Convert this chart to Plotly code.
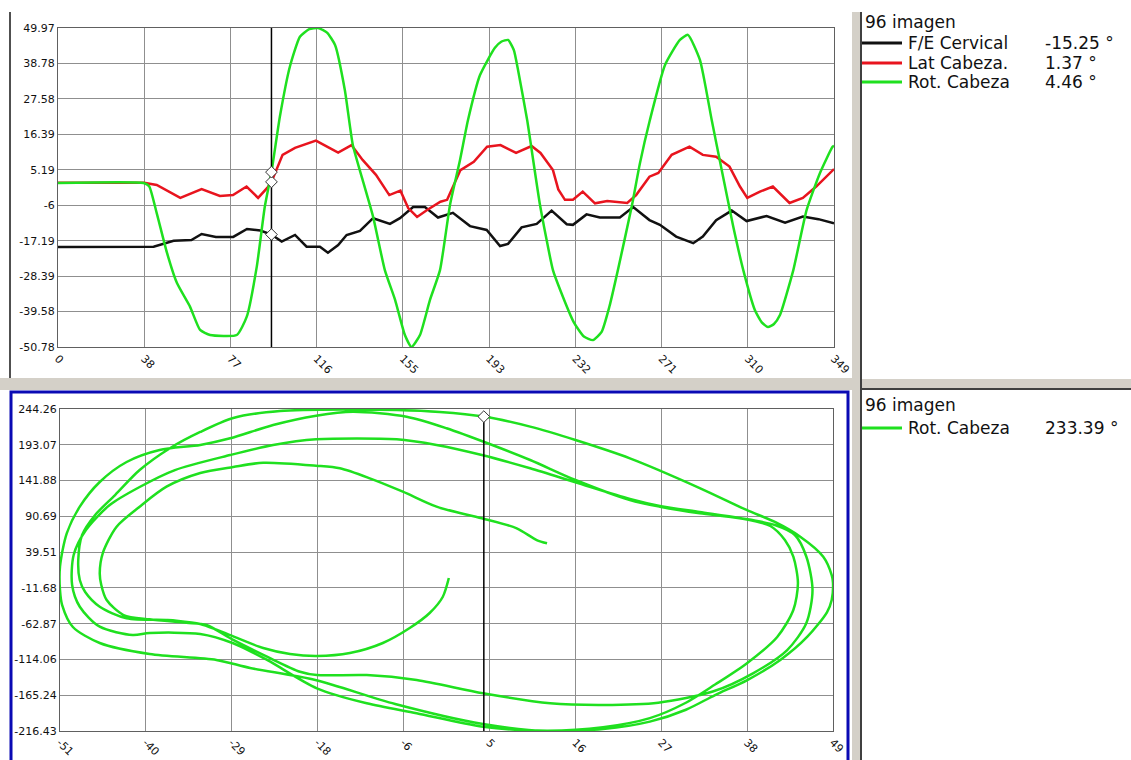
import plotly.graph_objects as go

# ---------------- data (top panel: angles vs frame) ----------------
fe_frames = [0, 31, 43, 52, 60, 64.6, 71, 78.8, 85, 91, 96, 100.6, 106.6, 111.8, 117.8, 121.4, 126, 129.8,
             135.8, 141.7, 149.3, 153.8, 159.7, 165, 170.9, 177.6, 185.3, 192.8, 198.8, 202.4, 208.5, 215.3,
             222, 228.8, 231.6, 237.7, 243.7, 252.7, 258.7, 266, 270.7, 278, 285.7, 290, 296, 303, 309.7,
             318.7, 327, 335, 342, 349]
fe_values = [-19.2, -19.2, -19.1, -17.2, -17.0, -15.1, -16.0, -16.0, -13.5, -14.0, -15.25, -17.5, -15.4, -19.1,
             -19.1, -21.0, -18.6, -15.4, -14.1, -10.1, -11.9, -10.1, -6.6, -6.6, -9.9, -8.4, -12.6, -13.8, -18.9,
             -18.2, -13.0, -11.9, -7.7, -12.0, -12.2, -8.9, -9.9, -9.9, -6.6, -10.7, -12.2, -15.9, -18.0, -15.9,
             -10.7, -7.7, -11.0, -9.4, -11.5, -9.6, -10.4, -11.7]

lat_frames = [0, 38.7, 44.4, 55, 64.6, 72.8, 78.7, 84.8, 90, 94, 96, 101, 106.6, 116, 121, 126, 132, 137, 143,
              149, 154, 157.5, 161.5, 166, 172, 175, 181, 187, 193, 199, 206, 213, 217, 222.6, 225, 228, 231.6,
              236, 241.5, 247, 256, 260, 266, 270, 276, 284, 290, 296, 302, 306.7, 310, 315.7, 321.5, 329, 335,
              341, 349]
lat_values = [1.1, 1.1, 0.4, -3.7, -0.9, -3.1, -2.8, -0.1, -3.7, -0.6, 1.37, 9.9, 12.1, 14.4, 12.5, 10.6, 13.0,
              8.3, 3.6, -2.8, -1.4, -6.9, -9.7, -7.5, -4.9, -4.3, 5.1, 7.7, 12.5, 13.0, 10.5, 12.7, 10.5, 5.1,
              -1.0, -4.3, -4.3, -1.7, -5.4, -4.7, -5.3, -2.8, 3.0, 4.2, 9.9, 12.5, 9.9, 9.3, 6.2, -0.1, -3.7,
              -1.7, -0.1, -5.3, -3.7, -0.1, 5.4]

rot_frames = [0, 38.5, 41, 44.4, 49, 53.5, 59.4, 63.9, 68.4, 80.4, 84.9, 89.4, 93, 96, 99.8, 104.3, 108.8, 113,
              117, 121, 124.6, 129, 132.6, 137, 141.7, 147, 151.6, 156, 159, 162.8, 167.3, 171.8, 176.3, 180.8,
              184.4, 189.8, 196.5, 199.5, 202.4, 205, 206.9, 211, 216.8, 222.6, 226, 232, 236.5, 240.6, 244.5,
              248, 251.8, 258, 261.7, 266.2, 273, 279.7, 283.3, 288.7, 294, 298.5, 303.7, 308.2, 313.4, 316.5,
              319.3, 322, 324.7, 330.7, 336.7, 342.7, 348.4, 349]
rot_values = [1.0, 1.0, 0.0, -8.5, -21.0, -30.6, -38.1, -45.4, -47.0, -47.0, -41.2, -25.4, -6.5, 4.46, 22.0,
              37.8, 47.2, 49.6, 49.97, 48.5, 44.6, 30.4, 13.0, 2.0, -9.6, -26.5, -35.9, -47.0, -50.78, -47.0,
              -35.9, -26.5, -5.9, 8.3, 20.9, 35.1, 43.7, 45.7, 46.2, 43.0, 36.7, 20.9, -6.0, -26.5, -33.0, -43.0,
              -47.5, -48.6, -46.0, -38.0, -26.5, -6.5, 7.2, 20.9, 38.3, 46.2, 47.8, 39.9, 20.9, 5.1, -12.8, -26.5,
              -39.1, -43.0, -44.5, -43.5, -40.7, -26.5, -7.5, 4.2, 12.5, 12.7]

# cursor (frame 96) and values shown in the side panels
cursor_frame = 96
cursor_fe = -15.25
cursor_lat = 1.37
cursor_rot = 4.46
cursor_rot_vel = 233.39

# ---------------- data (bottom panel: phase plot, angle vs angular velocity) ----------------
ph1_x = [-0.1, -0.9, -2.6, -5.2, -8.7, -13.0, -17.3, -20.8, -24.3, -27.7, -30.3, -32.5, -35.6, -36.9, -42.1,
         -45.6, -47.5, -48.2]
ph1_y = [2.4, -24.7, -47.6, -69.1, -90.5, -104.9, -109.1, -106.3, -97.7, -83.3, -71.9, -63.3, -58.6, -57.6,
         -55.2, -38.6, -17.6, -0.4]
ph2_x = [-48.4, -47.9, -46.2, -43.6, -40.4, -36.4, -32.5, -28.2, -22.1, -13.0, -6.9, -1.3, 4.46, 10.5, 16.4,
         23.5, 32.6, 38.7, 42.4, 45.7, 48.7, 49.8, 49.97]
ph2_y = [28.2, 64.0, 92.6, 121.2, 156.9, 188.5, 211.4, 231.4, 241.4, 243.5, 242.8, 240.0, 233.39, 219.0, 199.9,
         173.7, 131.2, 99.8, 82.6, 61.5, 32.9, 6.7, -4.7]
ph3_x = [49.8, 49.2, 46.6, 43.1, 38.8, 34.6, 30.8, 26.1, 20.0, 12.8, 4.35, -7.1, -17.5, -26.0, -30.4, -39.1,
         -45.6, -49.1, -50.5, -50.78]
ph3_y = [-29.0, -46.2, -81.9, -114.8, -143.5, -165.0, -186.0, -203.0, -213.5, -216.43, -206.4, -177.8, -143.5,
         -126.3, -114.8, -106.3, -90.5, -67.6, -36.2, -14.7]
ph4_x = [-50.78, -49.9, -48.2, -45.6, -42.1, -37.8, -32.5, -28.6, -23.0, -17.4, -12.6, -5.6, -0.4, 5.3, 10.5,
         16.4, 23.5, 27.4, 32.6, 37.8, 41.8, 43.7, 44.8, 45.4]
ph4_y = [18.6, 66.4, 104.5, 139.8, 168.4, 185.6, 192.8, 202.3, 221.4, 234.7, 240.4, 233.2, 216.7, 193.8, 171.3,
         142.7, 114.1, 104.5, 95.0, 87.9, 76.9, 56.8, 32.9, -5.1]
ph5_x = [44.8, 42.7, 38.8, 34.6, 30.8, 26.1, 20.0, 12.8, 4.35, -4.3, -10.8, -17.3, -23.8, -28.2, -32.5, -39.1,
         -41.3, -45.6, -48.2, -49.2]
ph5_y = [-43.3, -81.9, -119.1, -150.0, -176.0, -198.0, -211.0, -216.0, -210.3, -191.1, -176.8, -155.4, -114.8,
         -90.9, -77.6, -76.2, -79.0, -67.2, -38.6, -7.5]
ph6_x = [-49.0, -47.4, -44.3, -40.4, -35.8, -28.6, -23.0, -17.4, -6.9, -1.7, 4.2, 10.5, 16.4, 23.5, 27.4, 32.6,
         37.8, 42.4, 45.0, 46.5, 47.3]
ph6_y = [35.4, 71.1, 106.9, 132.7, 156.9, 178.4, 192.8, 200.9, 200.9, 192.8, 178.4, 159.4, 139.4, 115.5, 105.5,
         96.9, 88.3, 78.3, 64.0, 32.9, -14.7]
ph7_x = [46.5, 44.0, 39.6, 34.3, 27.2, 20.0, 13.1, 4.35, -4.3, -10.8, -17.3, -19.5, -23.8, -28.2, -31.7, -34.3,
         -39.1, -42.5, -44.7, -45.4]
ph7_y = [-61.9, -100.6, -133.5, -160.0, -176.0, -179.2, -176.8, -162.5, -143.5, -136.4, -136.4, -131.6, -110.1,
         -86.2, -64.8, -61.5, -56.6, -50.5, -29.0, -7.5]
ph8_x = [-45.6, -45.2, -43.4, -40.4, -36.9, -32.5, -28.2, -24.3, -17.4, -14.3, -10.4, -6.1, -1.7, 4.2, 8.75,
         11.35, 12.7]
ph8_y = [9.6, 38.2, 75.9, 104.5, 133.1, 152.7, 161.3, 167.4, 163.1, 159.4, 145.1, 126.0, 104.5, 87.9, 73.6,
         56.8, 52.1]

# axis ticks
top_x_ticks = [0, 38.78, 77.56, 116.33, 155.11, 193.89, 232.67, 271.44, 310.22, 349]
top_x_labels = ["0", "38", "77", "116", "155", "193", "232", "271", "310", "349"]
angle_ticks = [49.97, 38.78, 27.58, 16.39, 5.19, -6, -17.19, -28.39, -39.58, -50.78]
angle_labels = ["49.97", "38.78", "27.58", "16.39", "5.19", "-6", "-17.19", "-28.39", "-39.58", "-50.78"]
phase_x_labels = ["49", "38", "27", "16", "5", "-6", "-18", "-29", "-40", "-51"]
vel_ticks = [244.26, 193.07, 141.88, 90.69, 39.51, -11.68, -62.87, -114.06, -165.24, -216.43]
vel_labels = ["244.26", "193.07", "141.88", "90.69", "39.51", "-11.68", "-62.87", "-114.06", "-165.24", "-216.43"]

series_names = ["F/E Cervical", "Lat Cabeza.", "Rot. Cabeza"]
frame_label = "96 imagen"

# ---------------- styling ----------------
W, H = 1131, 760
GREEN = "#1fe01f"
RED = "#e8141e"
BLACK = "#111111"
GRID = "#8f8f8f"
PANEL = "#d4d0c8"
FONT = "DejaVu Sans"


def px(x):
    return x / W


def py(y):
    return 1 - y / H


fig = go.Figure()

# top panel traces
fig.add_trace(go.Scatter(x=fe_frames, y=fe_values, mode="lines", line=dict(color=BLACK, width=2.5),
                         xaxis="x", yaxis="y", showlegend=False))
fig.add_trace(go.Scatter(x=lat_frames, y=lat_values, mode="lines", line=dict(color=RED, width=2.5),
                         xaxis="x", yaxis="y", showlegend=False))
fig.add_trace(go.Scatter(x=rot_frames, y=rot_values, mode="lines", line=dict(color=GREEN, width=2.5,
                         shape="spline", smoothing=0.5), xaxis="x", yaxis="y", showlegend=False))
# cursor
fig.add_trace(go.Scatter(x=[cursor_frame, cursor_frame], y=[angle_ticks[-1], angle_ticks[0]], mode="lines",
                         line=dict(color="#000000", width=1.5), xaxis="x", yaxis="y", showlegend=False))
fig.add_trace(go.Scatter(x=[cursor_frame] * 3, y=[cursor_fe, cursor_lat, cursor_rot], mode="markers",
                         marker=dict(symbol="diamond", size=9, color="white", line=dict(color="#333", width=1)),
                         xaxis="x", yaxis="y", showlegend=False, cliponaxis=False))

# bottom panel phase curve
phase_x = ph1_x + ph2_x + ph3_x + ph4_x + ph5_x + ph6_x + ph7_x + ph8_x
phase_y = ph1_y + ph2_y + ph3_y + ph4_y + ph5_y + ph6_y + ph7_y + ph8_y
fig.add_trace(go.Scatter(x=phase_x, y=phase_y, mode="lines",
                         line=dict(color=GREEN, width=2.5, shape="spline", smoothing=0.8),
                         xaxis="x2", yaxis="y2", showlegend=False))
fig.add_trace(go.Scatter(x=[cursor_rot, cursor_rot], y=[cursor_rot_vel, vel_ticks[-1]], mode="lines",
                         line=dict(color="#000000", width=1.5), xaxis="x2", yaxis="y2", showlegend=False))
fig.add_trace(go.Scatter(x=[cursor_rot], y=[cursor_rot_vel], mode="markers",
                         marker=dict(symbol="diamond", size=9, color="white", line=dict(color="#333", width=1)),
                         xaxis="x2", yaxis="y2", showlegend=False, cliponaxis=False))

tickfont = dict(family=FONT, size=11, color="#111111")
common = dict(showgrid=True, gridcolor=GRID, gridwidth=1, zeroline=False, showline=True, linecolor="#606060",
              linewidth=1, ticks="", tickfont=tickfont, fixedrange=True, mirror=True, automargin=False)

fig.update_layout(
    width=W, height=H,
    margin=dict(l=0, r=0, t=0, b=0, autoexpand=False),
    paper_bgcolor="white", plot_bgcolor="white",
    xaxis=dict(domain=[px(58), px(834)], range=[0, 349], tickvals=top_x_ticks, ticktext=top_x_labels,
               tickangle=45, anchor="y", **common),
    yaxis=dict(domain=[py(347), py(28)], range=[-50.78, 49.97], tickvals=angle_ticks, ticktext=angle_labels,
               anchor="x", **common),
    xaxis2=dict(domain=[px(60), px(833)], range=[-50.78, 49.97], tickvals=angle_ticks,
                ticktext=phase_x_labels, tickangle=45, anchor="y2", **common),
    yaxis2=dict(domain=[py(731), py(409)], range=[-216.43, 244.26], tickvals=vel_ticks, ticktext=vel_labels,
                anchor="x2", **common),
)

# window decorations
shapes = [
    dict(type="rect", xref="paper", yref="paper", x0=0, x1=px(853), y0=py(390), y1=py(378),
         fillcolor=PANEL, line=dict(width=0), layer="below"),
    dict(type="rect", xref="paper", yref="paper", x0=px(852), x1=px(860), y0=0, y1=py(12),
         fillcolor=PANEL, line=dict(width=0), layer="below"),
    dict(type="rect", xref="paper", yref="paper", x0=px(862), x1=1, y0=py(388), y1=py(379),
         fillcolor=PANEL, line=dict(width=0), layer="below"),
    dict(type="line", xref="paper", yref="paper", x0=px(861), x1=px(861), y0=0, y1=py(12),
         line=dict(color="#404040", width=2)),
    dict(type="line", xref="paper", yref="paper", x0=px(861), x1=1, y0=py(389), y1=py(389),
         line=dict(color="#404040", width=2)),
    dict(type="line", xref="paper", yref="paper", x0=px(10), x1=px(10), y0=py(378), y1=py(12),
         line=dict(color="#505050", width=2)),
    dict(type="rect", xref="paper", yref="paper", x0=px(11), x1=px(848), y0=-0.01, y1=py(392),
         line=dict(color="#0a0ab4", width=3)),
]

# side-panel legends
legend_rows_top = [(43, BLACK, series_names[0], cursor_fe),
                   (63, RED, series_names[1], cursor_lat),
                   (82, GREEN, series_names[2], cursor_rot)]
legend_rows_bottom = [(428, GREEN, series_names[2], cursor_rot_vel)]

annotations = []
lfont = dict(family=FONT, size=17, color="#111111")
for title_y in (22, 405):
    annotations.append(dict(xref="paper", yref="paper", x=px(863), y=py(title_y), text=frame_label,
                            showarrow=False, xanchor="left", yanchor="middle", font=lfont))
for ry, col, name, val in legend_rows_top + legend_rows_bottom:
    shapes.append(dict(type="line", xref="paper", yref="paper", x0=px(862), x1=px(902), y0=py(ry), y1=py(ry),
                       line=dict(color=col, width=3)))
    annotations.append(dict(xref="paper", yref="paper", x=px(906), y=py(ry), text=name, showarrow=False,
                            xanchor="left", yanchor="middle", font=lfont))
    annotations.append(dict(xref="paper", yref="paper", x=px(1043), y=py(ry), text=f"{val:.2f} °",
                            showarrow=False, xanchor="left", yanchor="middle", font=lfont))

fig.update_layout(shapes=shapes, annotations=annotations)
fig.write_html(
    "out.html",
    config={"displayModeBar": False},
    post_script="document.body.style.margin='0';document.body.style.overflow='hidden';",
)
